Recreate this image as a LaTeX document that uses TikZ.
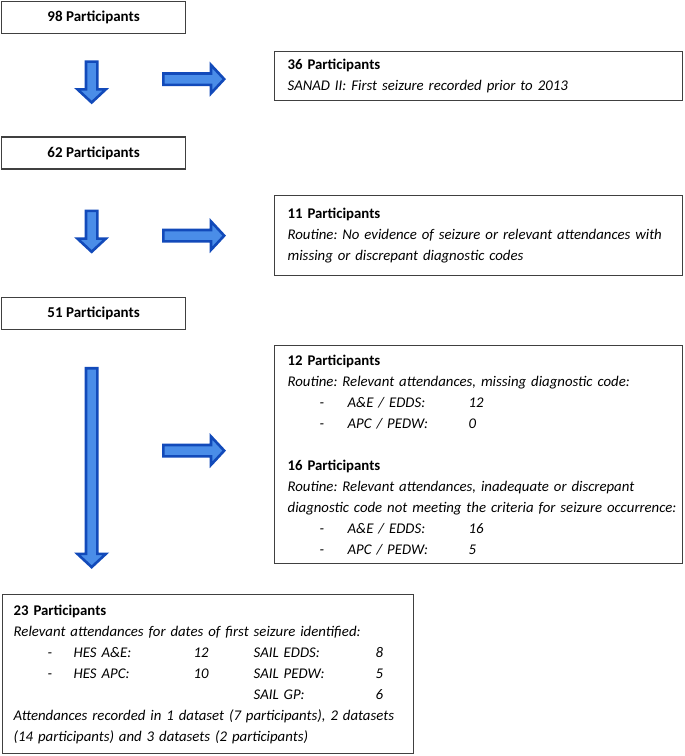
\documentclass[tikz,border=0pt]{standalone}
\usepackage{fontspec}
\setmainfont{Carlito}
\frenchspacing
\usetikzlibrary{positioning}
\usetikzlibrary{calc}
\definecolor{arrowfill}{RGB}{74,141,232}
\definecolor{arrowline}{RGB}{18,74,186}
\definecolor{boxline}{RGB}{64,64,64}
\newcommand{\hdr}[1]{{\upshape\bfseries #1}}
\newcommand{\coderow}[2]{\hspace*{32pt}\makebox[28pt][l]{-}\makebox[121pt][l]{#1}#2}
\newcommand{\setrow}[4]{\hspace*{34pt}\makebox[26pt][l]{-}\makebox[120pt][l]{#1}\makebox[60pt][l]{#2}\makebox[122pt][l]{#3}#4}

\begin{document}
\begin{tikzpicture}[x=1pt, y=-1pt,
countbox/.style={draw=boxline, line width=1.3pt, minimum width=184pt, minimum height=32pt, inner sep=0pt, font=\fontsize{15}{21}\selectfont\bfseries},
textbox/.style={draw=boxline, line width=1.3pt, anchor=north west, align=left, inner xsep=13pt, inner ysep=0pt, text width=382pt, font=\fontsize{14.8}{21}\selectfont\itshape},
blockarrow/.style={draw=arrowline, fill=arrowfill, line width=2.6pt, line join=miter},
pics/downarrow/.style={code={
  \draw[blockarrow] (-5.7,1.3) -- (5.7,1.3) -- (5.7,#1-15) -- (14.2,#1-15) -- (0,#1-1.8) -- (-14.2,#1-15) -- (-5.7,#1-15) -- cycle;}},
pics/rightarrow/.style={code={
  \draw[blockarrow] (1.3,-5.7) -- (#1-15,-5.7) -- (#1-15,-14.2) -- (#1-1.8,0) -- (#1-15,14.2) -- (#1-15,5.7) -- (1.3,5.7) -- cycle;}},
]
\useasboundingbox (0,0) rectangle (685,756);
% left column
\node[countbox, anchor=north west](n98) at (1,1){98 Participants};
\node[countbox, below=102pt of n98.south west, anchor=north west](n62){62 Participants};
\node[countbox, below=127pt of n62.south west, anchor=north west](n51){51 Participants};
\node[textbox, inner xsep=11pt, text width=389pt, minimum height=159pt](n23) at (2,594){\hdr{23 Participants}\\
Relevant attendances for dates of first seizure identified:\\
\setrow{HES A\&E:}{12}{SAIL EDDS:}{8}\\
\setrow{HES APC:}{10}{SAIL PEDW:}{5}\\
\hspace*{240pt}\makebox[122pt][l]{SAIL GP:}6\\
\mbox{Attendances recorded in 1 dataset (7 participants), 2 datasets}\\
(14 participants) and 3 datasets (2 participants)};
% right column
\node[textbox, minimum height=49pt](n36) at (274,51){\hdr{36 Participants}\\
SANAD II: First seizure recorded prior to 2013};
\node[textbox, minimum height=80pt](n11) at (274,195){\hdr{11 Participants}\\
Routine: No evidence of seizure or relevant attendances with\\
missing or discrepant diagnostic codes};
\node[textbox, minimum height=218pt](n12) at (274,345){\hdr{12 Participants}\\
Routine: Relevant attendances, missing diagnostic code:\\
\coderow{A\&E / EDDS:}{12}\\
\coderow{APC / PEDW:}{0}\\[21pt]
\hdr{16 Participants}\\
Routine: Relevant attendances, inadequate or discrepant\\
\mbox{diagnostic code not meeting the criteria for seizure occurrence:}\\
\coderow{A\&E / EDDS:}{16}\\
\coderow{APC / PEDW:}{5}};
% arrows
\pic at ($(n98.south)+(-2,26)$) {downarrow=44};
\pic at ($(n62.south)+(-2,40)$) {downarrow=44};
\pic at ($(n51.south)+(-2,37)$) {downarrow=202};
\pic at ($(n36.west)+(-112,3)$) {rightarrow=64};
\pic at ($(n11.west)+(-112,0)$) {rightarrow=64};
\pic at ($(n12.west)+(-112,-4)$) {rightarrow=64};
\end{tikzpicture}
\end{document}
